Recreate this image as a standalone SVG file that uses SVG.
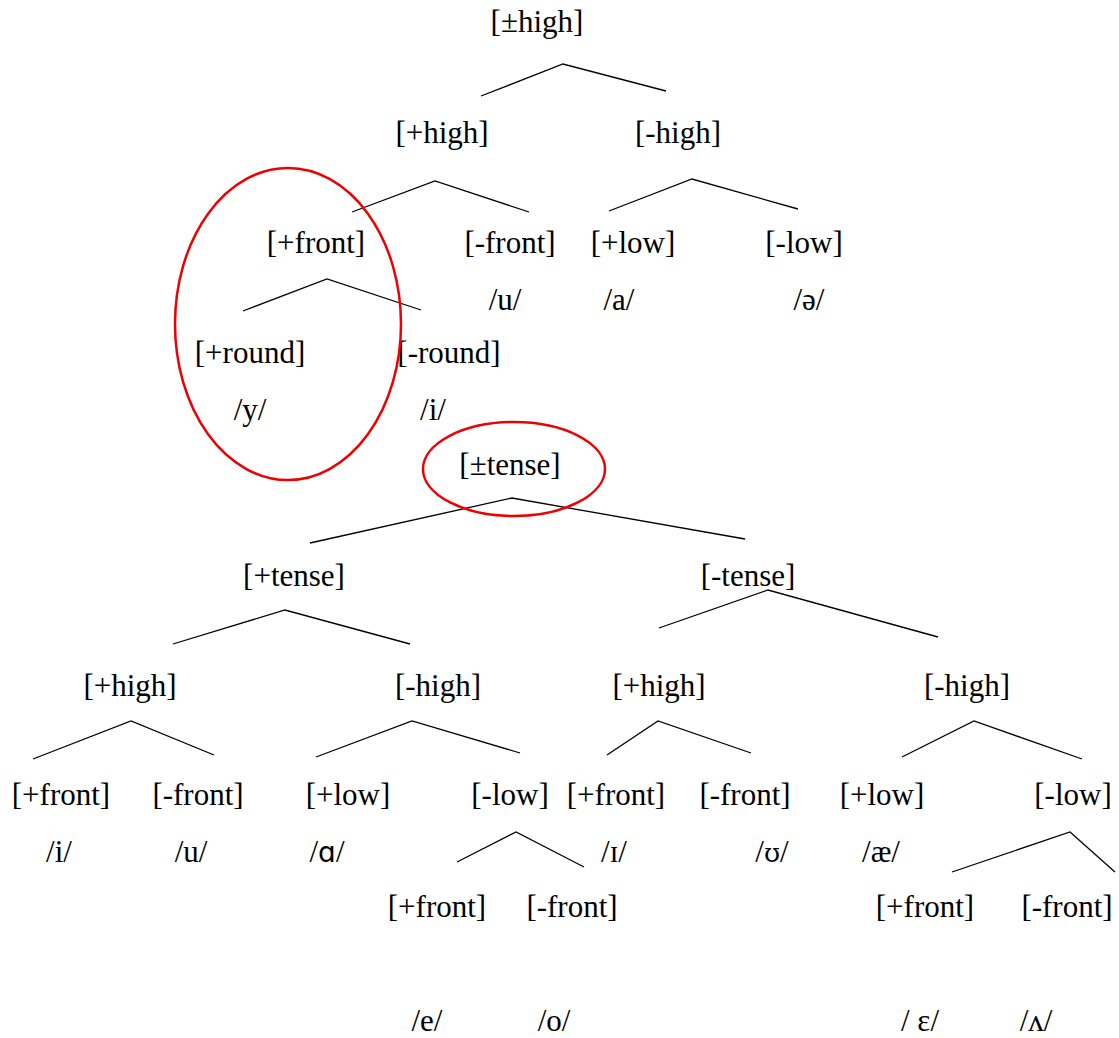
<svg xmlns="http://www.w3.org/2000/svg" width="1119" height="1038" viewBox="0 0 1119 1038">
<style>
text{font-family:"Liberation Serif","Times New Roman",serif;font-size:31px;fill:#000;text-anchor:middle}
.e{font-family:"DejaVu Sans","Liberation Sans",sans-serif;font-size:28px}
.s{font-family:"DejaVu Serif","Liberation Serif",serif;font-size:26px}
.c polyline{fill:none;stroke:#000;stroke-width:1.3}
.r{fill:none;stroke:#e00;stroke-width:2.5}
</style>
<rect width="1119" height="1038" fill="#fff"/>
<g class="c" id="connectors">
<polyline points="481,96 563,64 666,91"/>
<polyline points="352,212 435,181 529,212"/>
<polyline points="609,211 692,179 798,209"/>
<polyline points="243,311 327,279 421,310"/>
<polyline points="310,543 512,498 745,539"/>
<polyline points="173,644 285,610 410,644"/>
<polyline points="659,628 768,590 938,637"/>
<polyline points="33,759 131,721 214,755"/>
<polyline points="316,757 412,721 520,753"/>
<polyline points="607,755 658,721 751,753"/>
<polyline points="902,757 974,721 1082,759"/>
<polyline points="457,862 516,832 584,867"/>
<polyline points="952,872 1070,832 1115,872"/>
</g>
<g id="n-high"><text x="537" y="32">[±high]</text></g>
<g id="n-phigh"><text x="442" y="143">[+high]</text></g>
<g id="n-mhigh"><text x="678" y="143">[-high]</text></g>
<g id="n-pfront"><text x="316" y="253">[+front]</text></g>
<g id="n-mfront"><text x="510" y="253">[-front]</text><text x="505" y="310">/u/</text></g>
<g id="n-plow"><text x="633" y="253">[+low]</text><text x="619" y="310">/a/</text></g>
<g id="n-mlow"><text x="804" y="253">[-low]</text><text x="809" y="310">/ə/</text></g>
<g id="n-pround"><text x="250" y="363">[+round]</text><text x="250" y="420">/y/</text></g>
<g id="n-mround"><text x="449" y="363">[-round]</text><text x="433" y="420">/i/</text></g>
<g id="n-tense"><text x="510" y="475">[±tense]</text></g>
<g id="n-ptense"><text x="294" y="586">[+tense]</text></g>
<g id="n-mtense"><text x="748" y="586">[-tense]</text></g>
<g id="n-t-phigh"><text x="130" y="696">[+high]</text></g>
<g id="n-t-mhigh"><text x="438" y="696">[-high]</text></g>
<g id="n-l-phigh"><text x="659" y="696">[+high]</text></g>
<g id="n-l-mhigh"><text x="967" y="696">[-high]</text></g>
<g id="n-t-pfront"><text x="61" y="805">[+front]</text><text x="59" y="862">/i/</text></g>
<g id="n-t-mfront"><text x="198" y="805">[-front]</text><text x="191" y="862">/u/</text></g>
<g id="n-t-plow"><text x="348" y="805">[+low]</text><text x="327" y="862">/<tspan class="e">ɑ</tspan>/</text></g>
<g id="n-t-mlow"><text x="510" y="805">[-low]</text></g>
<g id="n-l-pfront"><text x="616" y="805">[+front]</text><text x="614" y="862">/ɪ/</text></g>
<g id="n-l-mfront"><text x="745" y="805">[-front]</text><text x="772" y="862">/<tspan class="s">ʊ</tspan>/</text></g>
<g id="n-l-plow"><text x="882" y="805">[+low]</text><text x="881" y="862">/æ/</text></g>
<g id="n-l-mlow"><text x="1073" y="805">[-low]</text></g>
<g id="n-t-e"><text x="427" y="1031">/e/</text></g>
<g id="n-t-o"><text x="554" y="1031">/o/</text></g>
<g id="n-t-ef"><text x="437" y="917">[+front]</text></g>
<g id="n-t-of"><text x="572" y="917">[-front]</text></g>
<g id="n-l-epsf"><text x="925" y="917">[+front]</text><text x="920" y="1031">/ ɛ/</text></g>
<g id="n-l-wedgef"><text x="1067" y="917">[-front]</text><text x="1036" y="1031">/ʌ/</text></g>
<ellipse class="r" cx="288" cy="324" rx="113" ry="156"/>
<ellipse class="r" cx="514" cy="469" rx="91" ry="47"/>
</svg>
